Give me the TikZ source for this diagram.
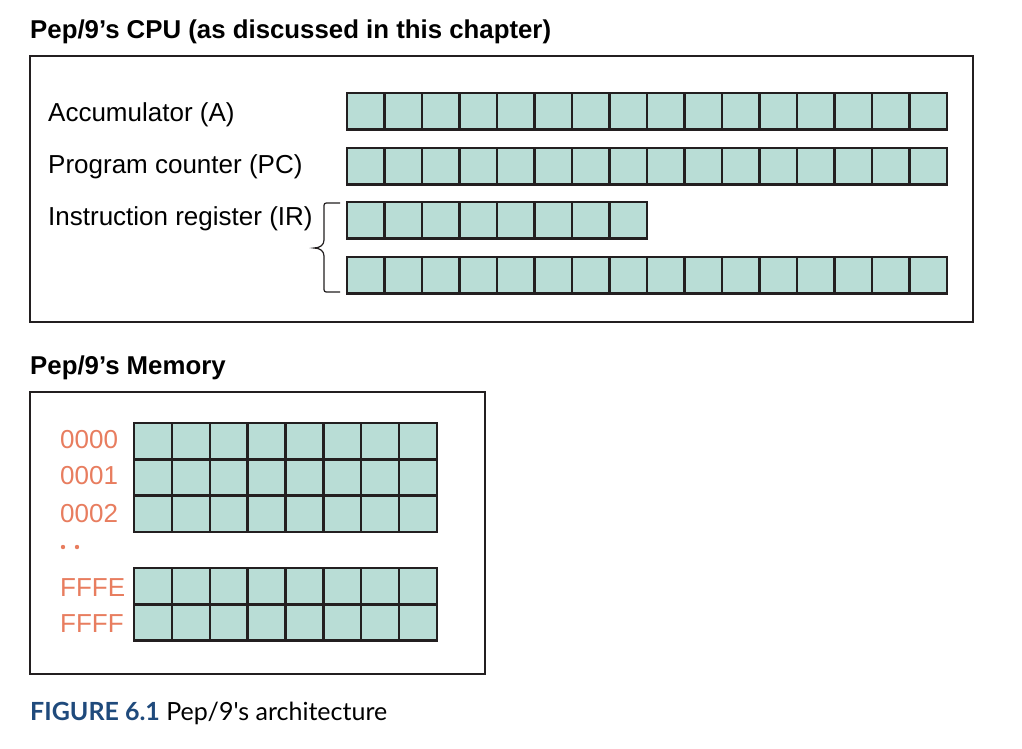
\documentclass[tikz,border=0pt]{standalone}
\usepackage{fontspec}
\setmainfont{Liberation Sans}
\newfontfamily\capfont{Lato}
\usetikzlibrary{calc}
\definecolor{cellfill}{HTML}{B9DDD6}
\definecolor{addr}{HTML}{E87D5F}
\definecolor{capblue}{HTML}{1F4A7C}
\definecolor{ink}{HTML}{231F20}
\begin{document}
\begin{tikzpicture}[x=1pt,y=-1pt,
  frame/.style={draw=ink, line width=2pt},
  cellrow/.style={draw=ink, line width=2.4pt, fill=cellfill, anchor=north west, inner sep=0pt, outer sep=0pt},
  cellline/.style={draw=ink, line width=2.4pt},
  lbl/.style={anchor=base west, inner sep=0pt, font=\fontsize{26}{30}\selectfont},
  addrlbl/.style={lbl, text=addr},
  titlelbl/.style={anchor=base west, inner sep=0pt, font=\fontsize{25.8}{30}\selectfont\bfseries},
  bracepath/.style={draw=ink, line width=1.2pt}]
\useasboundingbox (0,0) rectangle (1022,748);
\fill[white] (0,0) rectangle (1022,748);

% ---------- CPU ----------
\node[titlelbl] (cputitle) at (30,38) {Pep/9’s CPU (as discussed in this chapter)};
\node[frame, anchor=north west, minimum width=943, minimum height=266, inner sep=0pt, outer sep=0pt] (cpubox) at (30,56) {};

\foreach \nm/\y/\n in {regA/93/16, regPC/148/16, regIRa/202/8, regIRb/257/16} {
  \node[cellrow, minimum width={\n*37.5}, minimum height=36.5] (\nm) at (347,\y) {};
  \pgfmathtruncatemacro\m{\n-1}
  \foreach \i in {1,...,\m}
    \draw[cellline] ([xshift={\i*37.5}]\nm.north west) -- ([xshift={\i*37.5}]\nm.south west);
}

\node[lbl] (lblA) at (48,121) {Accumulator (A)};
\node[lbl] (lblPC) at (48,173) {Program counter (PC)};
\node[lbl] (lblIR) at (48,225) {Instruction register (IR)};

\coordinate (bTop) at (340,203);
\coordinate (bBot) at (340,292);
\draw[bracepath] (bTop) -- (329,203) .. controls (324,203) .. (324,208) -- (324,240)
  .. controls (324,245) and (320,248) .. (314,248)
  .. controls (320,248) and (324,251) .. (324,256) -- (324,287)
  .. controls (324,292) .. (329,292) -- (bBot);

% ---------- Memory ----------
\node[titlelbl] (memtitle) at (30,374) {Pep/9’s Memory};
\node[frame, anchor=north west, minimum width=455, minimum height=282, inner sep=0pt, outer sep=0pt] (membox) at (30,392) {};

\foreach \nm/\y/\r in {memTop/423/3, memBot/568/2} {
  \node[cellrow, minimum width=303, minimum height={\r*36.3}] (\nm) at (134,\y) {};
  \foreach \i in {1,...,7}
    \draw[cellline] ([xshift={\i*37.875}]\nm.north west) -- ([xshift={\i*37.875}]\nm.south west);
  \pgfmathtruncatemacro\m{\r-1}
  \foreach \j in {1,...,\m}
    \draw[cellline] ([yshift={-\j*36.3}]\nm.north west) -- ([yshift={-\j*36.3}]\nm.north east);
}

\node[addrlbl] (a0) at (60,448) {0000};
\node[addrlbl] (a1) at (60,484) {0001};
\node[addrlbl] (a2) at (60,522) {0002};
\fill[addr] (63,547) circle (2.2) (77,547) circle (2.2);
\node[addrlbl] (aE) at (60,596) {FFFE};
\node[addrlbl] (aF) at (60,632) {FFFF};

% ---------- Caption ----------
\node[anchor=base west, inner sep=0pt, font=\capfont\fontsize{25}{29}\selectfont] (cap) at (30,720)
  {\textcolor{capblue}{\bfseries FIGURE 6.1} Pep/9's architecture};
\end{tikzpicture}
\end{document}
